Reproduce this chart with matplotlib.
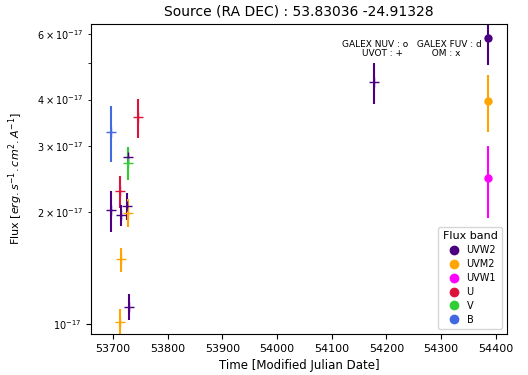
import numpy as np
import matplotlib
matplotlib.use("Agg")
import matplotlib.pyplot as plt
from matplotlib.lines import Line2D

# band colours
BANDS = ["UVW2", "UVM2", "UVW1", "U", "V", "B"]
COLORS = {"UVW2": "#4b0082", "UVM2": "#ffa500", "UVW1": "#ff00ff",
          "U": "#dc143c", "V": "#32cd32", "B": "#4169e1"}

# UVOT photometry (marker '+'), flux in 1e-17 erg/s/cm2/A
uvot_band = ["B", "U", "UVW2", "V", "UVW2", "U", "UVW2", "UVW2", "UVM2",
             "UVM2", "UVW2", "UVM2", "UVW2"]
uvot_mjd = [53696, 53746, 53728, 53728, 53696, 53713, 53714, 53725, 53727,
            53714, 53730, 53713, 54178]
uvot_flux = [3.28, 3.59, 2.81, 2.71, 2.02, 2.27, 1.96, 2.07, 1.99,
             1.49, 1.114, 1.014, 4.45]
uvot_err = [0.56, 0.43, 0.13, 0.28, 0.26, 0.22, 0.13, 0.17, 0.17,
            0.11, 0.09, 0.08, 0.55]

# GALEX-like points (marker 'o')
galex_band = ["UVW2", "UVM2", "UVW1"]
galex_mjd = [54386, 54386, 54386]
galex_flux = [5.84, 3.97, 2.46]
galex_err = [0.9, 0.69, 0.54]

SCALE = 1e-17

fig = plt.figure(figsize=(5.28, 3.75), dpi=100)
ax = fig.add_axes([0.1723, 0.1093, 0.7877, 0.8267])

for b, t, f, e in zip(uvot_band, uvot_mjd, uvot_flux, uvot_err):
    ax.errorbar(t, f * SCALE, yerr=e * SCALE, fmt="+", color=COLORS[b],
                ms=7, lw=1.5, mew=1.0)
for b, t, f, e in zip(galex_band, galex_mjd, galex_flux, galex_err):
    ax.errorbar(t, f * SCALE, yerr=e * SCALE, fmt="o", color=COLORS[b],
                ms=5, lw=1.5)

ax.set_yscale("log")
ax.set_xlim(53660, 54420)
ax.set_ylim(0.94e-17, 6.38e-17)
ax.tick_params(axis="x", labelsize=8)
ax.tick_params(axis="y", which="both", labelsize=7)
ax.set_xlabel("Time [Modified Julian Date]", fontsize=8.5)
ax.set_ylabel(r"Flux [$erg.s^{-1}.cm^{2}.A^{-1}$]", fontsize=8)
ax.yaxis.set_label_coords(-0.158, 0.5)
ax.set_title("Source (RA DEC) : 53.83036 -24.91328", fontsize=10)

ax.text(0.771, 0.95, "GALEX NUV : o   GALEX FUV : d\nUVOT : +          OM : x",
        transform=ax.transAxes, ha="center", va="top", fontsize=6.5,
        linespacing=1.1)

handles = [Line2D([], [], ls="none", marker="o", ms=6, color=COLORS[b])
           for b in BANDS]
ax.legend(handles, BANDS, title="Flux band", loc="lower right",
          fontsize=7, title_fontsize=8, handletextpad=0.3,
          borderpad=0.45, labelspacing=0.4)

fig.savefig("out.png", dpi=100)
